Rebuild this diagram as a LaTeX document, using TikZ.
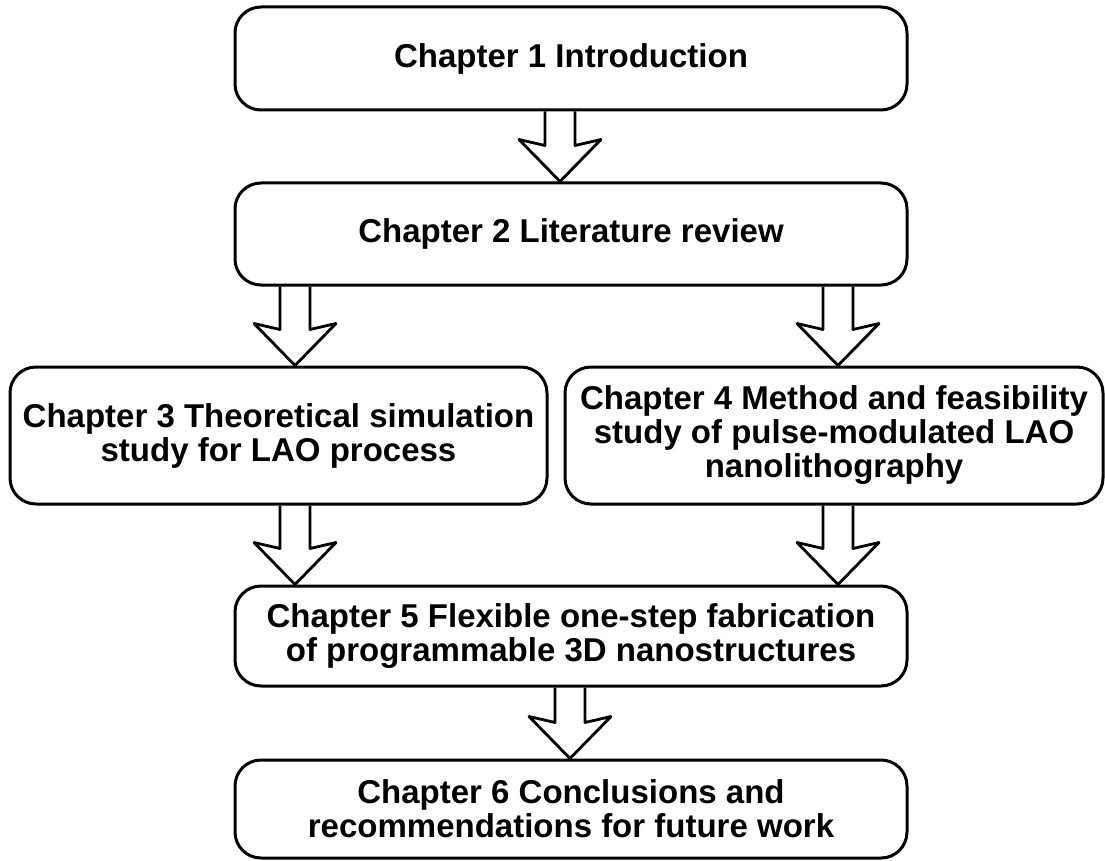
\documentclass[tikz,border=0pt]{standalone}
\usepackage{fontspec}
\setmainfont{Liberation Sans}
\usetikzlibrary{calc}
\tikzset{
  chap/.style={draw=black, line width=3pt, rounded corners=26pt, align=center,
    inner sep=0pt, font=\fontsize{33}{34}\selectfont\bfseries},
  blockarr/.style={draw=black, line width=2.8pt, line join=round}
}
\newcommand{\blockarrow}[3]{%
  \coordinate (ax) at (#3,0);
  \draw[blockarr] ([xshift=-15pt]ax |- #1.south)
    -- ([xshift=-15pt,yshift=36pt]ax |- #2.north)
    -- ([xshift=-41pt,yshift=42pt]ax |- #2.north)
    -- (ax |- #2.north)
    -- ([xshift=41pt,yshift=42pt]ax |- #2.north)
    -- ([xshift=15pt,yshift=36pt]ax |- #2.north)
    -- ([xshift=15pt]ax |- #1.south);
}
\begin{document}
\begin{tikzpicture}[x=1pt,y=-1pt]
\useasboundingbox (0,0) rectangle (1105,861);
\node[chap, minimum width=672pt, minimum height=103pt] (c1) at (571,58.5) {Chapter 1 Introduction};
\node[chap, minimum width=672pt, minimum height=102pt] (c2) at (571,234) {Chapter 2 Literature review};
\node[chap, minimum width=537pt, minimum height=137pt] (c3) at (278.5,435.5) {Chapter 3 Theoretical simulation\\study for LAO process};
\node[chap, minimum width=538pt, minimum height=137pt] (c4) at (834,435.5) {Chapter 4 Method and feasibility\\study of pulse-modulated LAO\\nanolithography};
\node[chap, minimum width=672pt, minimum height=100pt] (c5) at (571,636) {Chapter 5 Flexible one-step fabrication\\of programmable 3D nanostructures};
\node[chap, minimum width=672pt, minimum height=98pt] (c6) at (571,809) {Chapter 6 Conclusions and\\recommendations for future work};
\blockarrow{c1}{c2}{560}
\blockarrow{c2}{c3}{295}
\blockarrow{c2}{c4}{838}
\blockarrow{c3}{c5}{295}
\blockarrow{c4}{c5}{838}
\blockarrow{c5}{c6}{570}
\end{tikzpicture}
\end{document}
